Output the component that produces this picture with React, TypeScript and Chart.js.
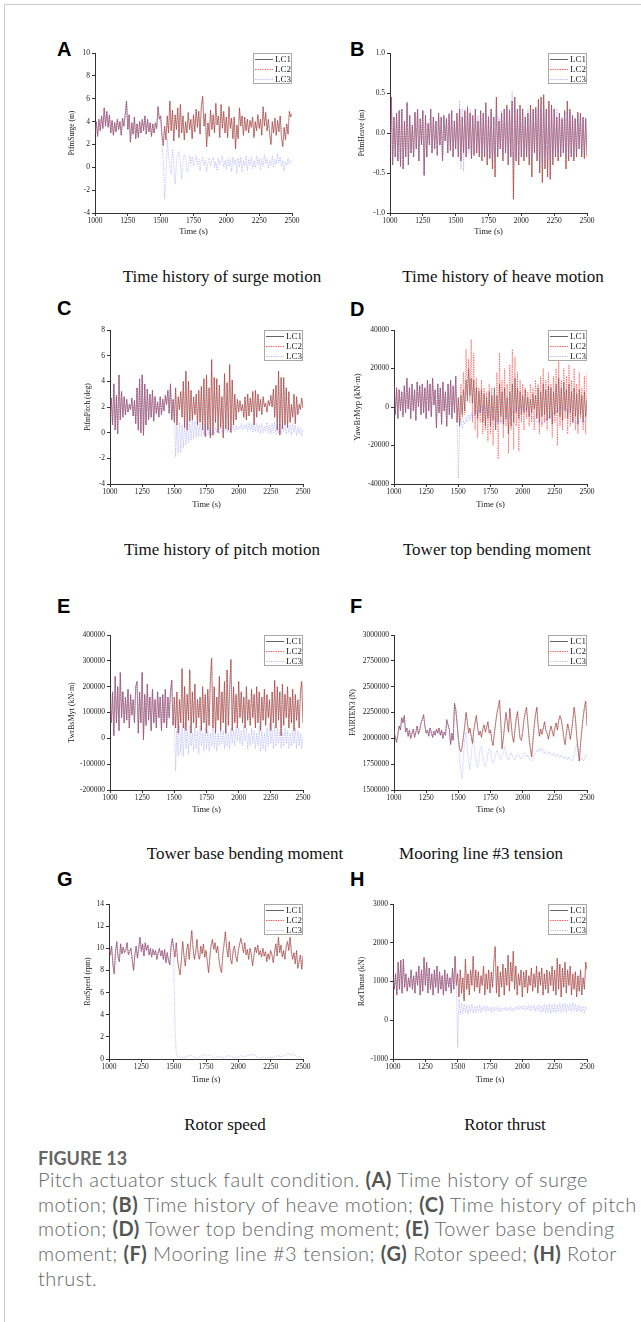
import React, { useEffect, useRef } from "react";
import { Chart, registerables } from "chart.js";

Chart.register(...registerables);

// ---- sampling grid (simulation output every 10 s, 1000 s .. 2500 s) ----
const TIME_START = 1000;
const TIME_STEP = 10;
const N_BEFORE_FAULT = 50; // samples 1000..1490 where LC3 coincides with LC1
const X_TICKS_MIN = 1000;
const X_TICKS_MAX = 2500;
const X_TICK_STEP = 250;
const SERIES_LABELS = ["LC1", "LC2", "LC3"];

// ---- (A) PtfmSurge (m) ----
const SURGE_LC1 = [
  3.0, 4.0, 2.7, 4.2, 3.2, 4.5, 3.4, 5.2, 3.6, 4.9,
  3.5, 4.6, 3.0, 4.1, 2.8, 3.9, 3.1, 4.2, 3.3, 4.0,
  2.8, 4.3, 3.6, 4.6, 5.8, 3.3, 4.6, 2.2, 3.9, 2.9,
  4.4, 2.5, 3.8, 2.6, 4.0, 3.0, 4.2, 3.2, 4.5, 2.9,
  4.2, 3.1, 3.9, 2.7, 3.8, 3.0, 3.9, 3.4, 5.3, 4.2,
  4.5, 2.8, 1.9, 3.6, 2.4, 4.5, 3.0, 5.8, 3.2, 5.0,
  2.3, 4.6, 3.3, 5.2, 2.6, 5.5, 3.0, 4.5, 2.4, 4.0,
  3.0, 4.8, 3.3, 4.2, 2.5, 4.6, 3.1, 5.1, 3.5, 4.9,
  2.9, 5.4, 6.2, 3.6, 4.7, 1.8, 3.9, 2.7, 5.0, 3.3,
  4.6, 3.0, 5.6, 3.7, 4.5, 2.6, 5.5, 3.4, 4.9, 3.0,
  4.4, 2.6, 5.3, 3.4, 4.3, 2.5, 4.4, 1.6, 3.7, 2.5,
  5.2, 3.6, 4.5, 2.8, 4.4, 3.2, 4.2, 3.0, 4.1, 3.5,
  4.4, 2.6, 4.0, 3.2, 4.6, 3.4, 4.2, 2.8, 5.3, 3.6,
  4.8, 3.2, 4.2, 2.9, 2.0, 4.0, 3.0, 4.3, 2.8, 4.1,
  3.1, 4.5, 2.6, 1.8, 3.5, 2.4, 3.8, 2.9, 4.9, 4.4,
  4.7,
];
const SURGE_LC3_FAULT = [
  4.3, 2.2, 0.5, -2.8, -0.8, 2.5, 1.0, 0.0, -0.6, 1.6,
  0.2, -1.5, 0.4, 1.2, 1.4, 0.3, -1.0, 0.6, 1.1, 0.9,
  -0.4, -0.2, 1.0, 0.3, 0.9, 0.1, 0.6, 1.0, 0.2, 0.7,
  -0.3, 0.5, 0.9, 0.2, 0.6, -0.4, 0.4, 0.8, 0.1, 0.6,
  0.9, 0.0, 0.5, -0.3, 0.8, 0.2, 0.6, 1.0, 0.0, 0.6,
  -0.2, 0.8, 0.1, 0.7, -0.4, 0.9, 0.2, 0.7, -0.5, 0.8,
  0.0, 0.9, -0.4, 0.6, 0.1, 1.0, -0.3, 0.7, 0.2, 0.9,
  -0.1, 0.6, 0.0, 1.0, 0.2, 0.8, -0.2, 0.7, 0.1, 1.1,
  0.3, 0.8, -0.1, 0.6, 0.2, 1.0, 0.0, 0.7, 0.3, 1.2,
  0.4, 0.9, 0.1, 0.6, -0.3, 0.5, 0.2, 0.8, 0.3, 0.6,
  0.5,
];

// ---- (B) PtfmHeave (m) ----
const HEAVE_LC1 = [
  -0.3, 0.45, -0.4, 0.2, -0.3, 0.25, -0.35, 0.28, -0.42, 0.3,
  -0.45, 0.15, -0.3, 0.38, -0.4, 0.22, -0.25, 0.1, -0.3, 0.26,
  -0.2, 0.3, -0.35, 0.18, -0.15, 0.28, -0.53, 0.22, -0.3, 0.12,
  -0.15, 0.3, -0.25, 0.2, -0.2, 0.15, -0.28, 0.25, -0.15, 0.2,
  -0.35, 0.22, -0.1, 0.18, -0.25, 0.24, -0.22, 0.28, -0.3, 0.15,
  -0.2, 0.25, -0.3, 0.3, -0.35, 0.2, -0.25, 0.28, -0.3, 0.32,
  -0.2, 0.25, -0.32, 0.22, -0.28, 0.3, -0.25, 0.15, -0.3, 0.28,
  -0.35, 0.25, -0.3, 0.38, -0.4, 0.2, -0.32, 0.3, -0.45, 0.2,
  -0.55, 0.45, -0.3, 0.15, -0.2, 0.25, -0.35, 0.3, -0.25, 0.35,
  -0.4, 0.28, -0.3, 0.4, -0.83, 0.45, -0.35, 0.3, -0.4, 0.35,
  -0.3, 0.3, -0.35, 0.2, -0.3, 0.25, -0.4, 0.35, -0.55, 0.3,
  -0.25, 0.32, -0.35, 0.42, -0.5, 0.45, -0.62, 0.48, -0.45, 0.3,
  -0.55, 0.4, -0.58, 0.35, -0.4, 0.3, -0.3, 0.2, -0.35, 0.25,
  -0.3, 0.18, -0.25, 0.28, -0.45, 0.4, -0.35, 0.3, -0.3, 0.22,
  -0.35, 0.18, -0.3, 0.26, -0.2, 0.25, -0.3, 0.2, -0.32, 0.18,
  -0.3,
];
const HEAVE_LC3_FAULT = [
  -0.15, 0.2, -0.25, 0.4, -0.45, 0.3, -0.48, 0.25, -0.3, 0.35,
  -0.25, 0.3, -0.3, 0.2, -0.25, 0.3, -0.2, 0.22, -0.28, 0.25,
  -0.3, 0.2, -0.25, 0.3, -0.3, 0.22, -0.28, 0.25, -0.35, 0.2,
  -0.3, 0.3, -0.25, 0.2, -0.2, 0.28, -0.3, 0.3, -0.22, 0.3,
  -0.35, 0.3, -0.28, 0.52, -0.4, 0.35, -0.3, 0.28, -0.35, 0.3,
  -0.25, 0.25, -0.3, 0.22, -0.28, 0.3, -0.3, 0.28, -0.35, 0.25,
  -0.22, 0.3, -0.3, 0.35, -0.35, 0.3, -0.4, 0.35, -0.3, 0.25,
  -0.35, 0.3, -0.35, 0.3, -0.3, 0.32, -0.25, 0.3, -0.3, 0.25,
  -0.28, 0.2, -0.25, 0.25, -0.3, 0.3, -0.28, 0.25, -0.25, 0.22,
  -0.3, 0.2, -0.25, 0.25, -0.2, 0.22, -0.25, 0.18, -0.28, 0.2,
  -0.1,
];

// ---- (C) PtfmPitch (deg) ----
const PITCH_LC1 = [
  1.0, 2.7, 0.6, 3.8, 0.2, 2.9, -0.1, 4.5, 1.0, 3.2,
  1.2, 2.8, 1.4, 2.6, 1.6, 2.2, 1.8, 2.7, 1.3, 2.5,
  0.7, 3.5, 0.2, 4.2, 0.0, 4.5, -0.2, 3.8, 0.6, 3.4,
  1.0, 3.0, 1.2, 3.3, 0.9, 2.8, 1.5, 2.4, 1.2, 2.8,
  1.4, 2.6, 1.7, 2.9, 2.2, 3.3, 1.5, 3.8, 1.0, 2.6,
  0.8, 3.5, 0.6, 2.8, 1.8, 3.2, 1.2, 4.0, 0.4, 4.8,
  0.2, 4.0, 0.9, 3.3, 1.0, 2.8, 1.4, 3.0, 0.6, 3.3,
  0.8, 3.6, 0.2, 4.2, -0.3, 4.5, 0.2, 3.5, -0.4, 5.7,
  -0.2, 4.3, 0.8, 4.2, 0.0, 3.7, 0.4, 2.8, -0.4, 4.6,
  0.3, 3.9, 0.2, 5.3, 0.0, 4.1, 0.6, 3.0, 1.0, 2.6,
  1.6, 2.5, 1.7, 2.2, 1.2, 2.8, 1.0, 3.0, 1.3, 2.7,
  1.6, 3.2, 0.6, 3.3, 1.2, 3.0, 1.7, 2.6, 1.4, 2.8,
  2.0, 2.3, 1.6, 2.5, 2.1, 2.9, 2.0, 3.4, 1.2, 3.7,
  0.2, 4.8, -0.2, 4.3, 0.3, 4.3, 0.6, 3.5, 0.4, 3.2,
  0.8, 2.2, 1.2, 3.0, 0.7, 2.8, 1.4, 2.2, 1.8, 2.7,
  1.9,
];
const PITCH_LC3_FAULT = [
  2.0, -1.9, 0.7, -1.6, 0.8, -1.5, 0.6, -1.2, 0.8, -1.0,
  0.9, -0.8, 1.0, -0.6, 1.1, -0.5, 0.9, -0.4, 0.8, -0.3,
  0.7, -0.3, 0.6, -0.2, 0.5, -0.3, 0.5, -0.2, 0.4, -0.2,
  0.3, -0.1, 0.4, 0.0, 0.3, -0.1, 0.4, 0.0, 0.2, 0.1,
  0.4, 0.0, 0.3, 0.1, 0.4, 0.2, 0.5, 0.1, 0.6, 0.2,
  0.5, 0.3, 0.7, 0.2, 0.6, 0.3, 0.7, 0.1, 0.8, 0.2,
  0.7, 0.0, 0.8, 0.1, 0.7, 0.0, 0.6, -0.1, 0.7, 0.0,
  0.5, 0.1, 0.8, 0.0, 0.6, -0.1, 0.7, 0.0, 0.8, -0.1,
  0.6, 0.0, 0.7, -0.1, 0.8, 0.1, 0.6, -0.1, 0.7, 0.0,
  0.6, -0.2, 0.7, 0.0, 0.6, -0.2, 0.5, -0.1, 0.4, -0.3,
  0.3,
];

// ---- (D) YawBrMyp (kN·m) ----
const YAWBR_LC1 = [
  12000, -4000, 10000, -6000, 9000, -2000, 8000, -5000, 11000, -3000,
  15000, -1000, 10000, -6000, 12000, -2000, 9000, -7000, 13000, 0,
  11000, -4000, 12000, -3000, 10000, -6000, 14000, -2000, 12000, -5000,
  15000, 1000, 9000, -11000, 12000, -3000, 10000, -9000, 13000, -2000,
  8000, -10000, 12000, -4000, 14000, -6000, 11000, -3000, 16000, -8000,
  5000, -10000, 6000, -4000, 9000, -2000, 14000, 3000, 20000, 6000,
  15000, 2000, 14000, -4000, 10000, -6000, 8000, -3000, 9000, -8000,
  7000, -10000, 5000, -6000, 8000, -10000, 6000, -7000, 10000, -12000,
  6000, -8000, 12000, -5000, 8000, -9000, 10000, -6000, 5000, -14000,
  8000, -10000, 12000, -8000, 15000, -3000, 10000, -6000, 8000, -4000,
  6000, -3000, 9000, -2000, 5000, -5000, 4000, -3000, 7000, -1000,
  6000, -6000, 10000, -8000, 8000, -5000, 12000, -4000, 9000, -7000,
  11000, -6000, 10000, -9000, 8000, -4000, 12000, -3000, 15000, -5000,
  10000, -7000, 13000, -2000, 9000, -6000, 12000, -3000, 8000, -8000,
  10000, -5000, 7000, -9000, 9000, -4000, 6000, -8000, 8000, -5000,
  4000,
];
const YAWBR_LC2_FAULT = [
  4000, -8000, 12000, -6000, 18000, -4000, 30000, 6000, 25000, 2000,
  35000, -8000, 28000, -12000, 15000, -16000, 10000, -8000, 14000, -14000,
  10000, -12000, 8000, -18000, 12000, -14000, 10000, -20000, 6000, -10000,
  18000, -27000, 28000, -8000, 14000, -16000, 20000, -10000, 12000, -24000,
  22000, -12000, 30000, -22000, 26000, -10000, 18000, -23000, 14000, -8000,
  12000, -12000, 10000, -6000, 8000, -10000, 12000, -8000, 10000, -12000,
  14000, -6000, 12000, -14000, 16000, -10000, 20000, -8000, 14000, -12000,
  18000, -6000, 12000, -16000, 16000, -8000, 20000, -20000, 24000, -10000,
  14000, -12000, 20000, -6000, 16000, -14000, 22000, -10000, 14000, -8000,
  20000, -12000, 12000, -14000, 18000, -6000, 10000, -12000, 16000, -14000,
  18000,
];
const YAWBR_LC3_FAULT = [
  -37000, -10000, -6000, -11000, -7000, -9000, -5000, -8000, -4000, -7000,
  -3000, -6000, -4000, -5000, -2000, -4000, -1000, -3000, 0, -2000,
  1000, -1000, 0, -3000, -2000, -5000, -4000, -6000, -5000, -8000,
  -7000, -9000, -8000, -9000, -7000, -8000, -6000, -7000, -5000, -6000,
  -3000, -4000, -2000, -3000, -1000, -2000, 0, -1000, 1000, -1000,
  0, -2000, -1000, -3000, -2000, -4000, -4000, -6000, -5000, -7000,
  -6000, -8000, -7000, -9000, -8000, -9000, -7000, -8000, -6000, -7000,
  -5000, -6000, -4000, -4000, -3000, -2000, -3000, -1000, -2000, 0,
  -1000, 1000, -1000, 0, -2000, -1000, -3000, -4000, -5000, -6000,
  -8000, -7000, -9000, -8000, -7000, -8000, -7000, -6000, -8000, -7000,
  -6000,
];

// ---- (E) TwrBsMyt (kN·m) ----
const TWRBS_LC1 = [
  150000, 60000, 180000, 10000, 240000, 60000, 200000, 30000, 255000, 80000,
  180000, 60000, 160000, 70000, 190000, 40000, 170000, 90000, 150000, 60000,
  200000, 220000, 20000, 180000, 60000, 255000, -5000, 170000, 50000, 210000,
  70000, 160000, 30000, 190000, 60000, 150000, 40000, 180000, 80000, 160000,
  30000, 170000, 60000, 190000, 40000, 160000, 80000, 180000, 225000, 50000,
  160000, 40000, 180000, 20000, 150000, 60000, 270000, 40000, 200000, 30000,
  170000, 70000, 265000, 20000, 180000, 60000, 210000, 40000, 150000, 80000,
  160000, 30000, 200000, 60000, 170000, 20000, 190000, 50000, 230000, 310000,
  40000, 200000, 20000, 160000, 70000, 240000, 30000, 180000, 60000, 220000,
  20000, 265000, 50000, 190000, 305000, 30000, 200000, 60000, 170000, 40000,
  220000, 80000, 180000, 60000, 160000, 40000, 200000, 70000, 150000, 50000,
  190000, 80000, 170000, 40000, 200000, 60000, 180000, 30000, 160000, 70000,
  190000, 50000, 170000, 80000, 150000, 30000, 180000, 60000, 225000, 40000,
  200000, 70000, 180000, 10000, 210000, 50000, 170000, 80000, 200000, 40000,
  160000, 60000, 190000, 30000, 170000, 70000, 150000, 40000, 180000, 220000,
  60000,
];
const TWRBS_LC3_FAULT = [
  80000, -125000, 30000, -70000, 50000, -60000, 40000, -70000, 60000, -40000,
  30000, -60000, 50000, -30000, 20000, -50000, 40000, -40000, 30000, -60000,
  50000, -30000, 20000, -50000, 40000, -40000, 30000, -50000, 20000, -30000,
  40000, -40000, 30000, -50000, 20000, -30000, 40000, -20000, 30000, -40000,
  50000, -30000, 20000, -40000, 40000, -20000, 30000, -30000, 50000, -10000,
  40000, -20000, 30000, -30000, 50000, -10000, 40000, -40000, 20000, -30000,
  40000, -20000, 30000, -40000, 20000, -30000, 50000, -50000, 30000, -40000,
  20000, -50000, 40000, -30000, 60000, -20000, 30000, -40000, 50000, -30000,
  40000, -20000, 30000, -40000, 20000, -30000, 40000, -20000, 30000, -40000,
  20000, -30000, 30000, -20000, 40000, -40000, 30000, -30000, 20000, -40000,
  10000,
];

// ---- (F) FAIRTEN3 (N) ----
const FAIRTEN_LC1 = [
  2070000, 2010000, 1960000, 2040000, 2120000, 2080000, 2200000, 2150000, 2220000, 2060000,
  2100000, 2020000, 2080000, 2000000, 2050000, 2090000, 2010000, 2060000, 2120000, 2040000,
  2080000, 2150000, 2180000, 2230000, 2120000, 2050000, 2080000, 2020000, 2100000, 2060000,
  2010000, 2070000, 2030000, 2090000, 2050000, 2100000, 2030000, 2080000, 2000000, 2060000,
  2030000, 2180000, 2130000, 2090000, 1940000, 2050000, 1980000, 2340000, 2280000, 2150000,
  2000000, 1900000, 1870000, 1920000, 2020000, 2120000, 2250000, 2160000, 2050000, 2100000,
  2020000, 1950000, 2080000, 2150000, 2220000, 2100000, 2030000, 2070000, 2010000, 2090000,
  2130000, 2060000, 2110000, 2160000, 2050000, 2080000, 1980000, 1930000, 2050000, 2150000,
  2240000, 2300000, 2370000, 2150000, 1900000, 2000000, 2130000, 2250000, 2160000, 2060000,
  2290000, 2150000, 2020000, 1960000, 2080000, 2190000, 2260000, 2120000, 2000000, 1980000,
  2060000, 2180000, 2250000, 2300000, 2150000, 2000000, 1900000, 1820000, 1980000, 2120000,
  2230000, 2300000, 2130000, 2020000, 2090000, 2040000, 2100000, 2160000, 2080000, 2050000,
  1990000, 2060000, 2120000, 2070000, 2020000, 2100000, 2150000, 2080000, 2170000, 2220000,
  2180000, 2100000, 2000000, 1940000, 2050000, 2140000, 2080000, 1990000, 2070000, 2180000,
  2300000, 2200000, 2020000, 1900000, 1780000, 1950000, 2080000, 2200000, 2300000, 2360000,
  2120000,
];
const FAIRTEN_LC3_FAULT = [
  1980000, 1780000, 1680000, 1610000, 1850000, 2000000, 2060000, 1900000, 1760000, 1700000,
  1820000, 1950000, 2000000, 1850000, 1750000, 1720000, 1800000, 1900000, 1920000, 1830000,
  1760000, 1730000, 1780000, 1850000, 1900000, 1880000, 1800000, 1760000, 1790000, 1840000,
  1880000, 1860000, 1820000, 1790000, 1830000, 1870000, 1920000, 1870000, 1810000, 1790000,
  1830000, 1860000, 1830000, 1800000, 1790000, 1820000, 1850000, 1840000, 1810000, 1800000,
  1830000, 1860000, 1850000, 1820000, 1840000, 1810000, 1790000, 1780000, 1800000, 1830000,
  1860000, 1890000, 1870000, 1900000, 1880000, 1910000, 1870000, 1850000, 1880000, 1860000,
  1840000, 1870000, 1850000, 1830000, 1860000, 1840000, 1820000, 1850000, 1830000, 1810000,
  1840000, 1820000, 1800000, 1830000, 1810000, 1790000, 1820000, 1800000, 1780000, 1800000,
  1830000, 1900000, 1950000, 1880000, 1820000, 1790000, 1810000, 1780000, 1800000, 1840000,
  1830000,
];

// ---- (G) RotSpeed (rpm) ----
const ROTSPEED_LC1 = [
  9.8, 9.4, 10.2, 8.6, 7.7, 9.6, 10.6, 9.2, 8.8, 10.4,
  9.5, 10.1, 9.6, 9.8, 10.5, 9.4, 9.7, 10.0, 8.9, 8.0,
  9.4, 10.2, 9.1, 10.0, 11.0, 9.7, 10.4, 9.3, 10.5, 9.8,
  10.3, 9.4, 10.0, 9.2, 9.9, 9.4, 9.8, 9.0, 9.6, 10.0,
  9.3, 9.8, 9.0, 9.9, 8.7, 9.6, 8.9, 8.5, 10.2, 10.9,
  10.0, 9.2, 10.5, 9.0, 8.2, 7.6, 9.0, 10.6, 9.3, 8.4,
  9.8, 10.4, 9.0, 10.3, 11.6, 10.0, 9.0, 9.6, 10.8, 9.4,
  9.0, 10.2, 9.5, 10.4, 9.2, 9.8, 8.8, 7.8, 9.2, 10.3,
  10.8, 9.9, 10.5, 9.6, 10.2, 9.0, 8.2, 7.8, 9.4, 10.4,
  11.5, 10.0, 9.2, 10.6, 9.0, 8.6, 9.8, 10.2, 9.3, 8.8,
  9.8, 10.4, 10.9, 10.3, 9.6, 10.5, 9.4, 9.9, 9.0, 10.0,
  9.5, 8.4, 9.3, 10.1, 9.6, 10.3, 9.4, 9.8, 9.2, 10.0,
  9.3, 9.7, 8.8, 9.5, 9.0, 9.8, 9.4, 8.7, 9.6, 10.4,
  9.3, 11.0, 9.6, 10.3, 9.2, 9.8, 9.0, 10.2, 10.6, 9.8,
  11.0, 9.7, 9.0, 9.6, 8.6, 9.8, 8.2, 8.8, 9.4, 8.1,
  9.3,
];
const ROTSPEED_LC3_FAULT = [
  9.0, 3.0, 0.5, 0.2, 0.3, 0.1, 0.2, 0.1, 0.15, 0.1,
  0.2, 0.25, 0.3, 0.35, 0.3, 0.2, 0.15, 0.1, 0.1, 0.15,
  0.2, 0.25, 0.3, 0.35, 0.4, 0.35, 0.3, 0.35, 0.4, 0.3,
  0.2, 0.15, 0.1, 0.15, 0.2, 0.25, 0.2, 0.15, 0.1, 0.15,
  0.2, 0.25, 0.3, 0.3, 0.25, 0.2, 0.15, 0.1, 0.1, 0.15,
  0.2, 0.25, 0.3, 0.25, 0.2, 0.2, 0.25, 0.3, 0.35, 0.4,
  0.45, 0.4, 0.35, 0.3, 0.2, 0.15, 0.1, 0.1, 0.15, 0.2,
  0.15, 0.1, 0.1, 0.15, 0.2, 0.15, 0.1, 0.15, 0.2, 0.25,
  0.3, 0.3, 0.25, 0.2, 0.25, 0.3, 0.35, 0.4, 0.45, 0.5,
  0.45, 0.4, 0.3, 0.45, 0.35, 0.2, 0.15, 0.2, 0.15, 0.1,
  0.15,
];

// ---- (H) RotThrust (kN) ----
const ROTTHRUST_LC1 = [
  1100, 800, 1200, 650, 1500, 800, 1550, 700, 1580, 850,
  1200, 750, 1100, 850, 1300, 800, 1150, 700, 1250, 900,
  1400, 650, 1300, 750, 1620, 900, 1500, 700, 1350, 800,
  1200, 650, 1300, 850, 1400, 700, 1250, 800, 1150, 650,
  1300, 750, 1200, 850, 1100, 700, 1350, 800, 1650, 900,
  1200, 600, 1300, 700, 1100, 500, 1580, 800, 1200, 650,
  1300, 900, 1650, 750, 1300, 850, 1250, 700, 1150, 900,
  1400, 650, 1200, 800, 1300, 700, 1250, 850, 1500, 1900,
  700, 1400, 600, 1250, 850, 1450, 650, 1350, 900, 1680,
  750, 1500, 1000, 1780, 800, 1400, 650, 1200, 900, 1300,
  600, 1250, 850, 1300, 700, 1150, 900, 1350, 750, 1200,
  850, 1400, 700, 1250, 900, 1350, 650, 1200, 800, 1300,
  700, 1250, 900, 1400, 750, 1300, 650, 1600, 800, 1450,
  600, 1350, 850, 1500, 700, 1300, 900, 1400, 650, 1200,
  800, 1250, 600, 1150, 750, 1300, 650, 1100, 800, 1500,
  1300,
];
const ROTTHRUST_LC3_FAULT = [
  -700, 550, 150, 450, 180, 420, 200, 400, 150, 380,
  220, 420, 180, 350, 200, 380, 230, 400, 200, 350,
  250, 380, 220, 360, 240, 340, 200, 350, 230, 330,
  250, 360, 220, 330, 240, 320, 260, 350, 240, 330,
  260, 340, 230, 320, 250, 350, 270, 380, 260, 360,
  280, 390, 250, 370, 270, 400, 240, 380, 260, 400,
  230, 370, 250, 400, 200, 380, 220, 420, 180, 400,
  200, 420, 170, 410, 210, 430, 190, 400, 220, 450,
  200, 420, 230, 440, 200, 410, 250, 430, 220, 460,
  240, 420, 210, 400, 230, 380, 200, 360, 180, 350,
  250,
];

// ---- assembly helpers ----
const TIMES = SURGE_LC1.map((_, i) => TIME_START + i * TIME_STEP);
const withPreFault = (lc1: number[], fault: number[]) => lc1.slice(0, N_BEFORE_FAULT).concat(fault);

const SERIF = '"Liberation Serif", "Times New Roman", serif';

type Panel = {
  letter: string;
  caption: string;
  yTitle: string;
  yMin: number;
  yMax: number;
  yStep: number;
  decimals: number;
  lc1: number[];
  lc2: number[];
  lc3: number[];
  box: { l: number; t: number; r: number; b: number };
  yGap: number;
  xGap: number;
  yTitleSize: number;
  letterPos: { x: number; y: number };
  capPos: { cx: number; base: number };
};

const PANELS: Panel[] = [
  {
    letter: "A", caption: "Time history of surge motion", yTitle: "PtfmSurge (m)",
    yMin: -4, yMax: 10, yStep: 2, decimals: 0,
    lc1: SURGE_LC1, lc2: SURGE_LC1, lc3: withPreFault(SURGE_LC1, SURGE_LC3_FAULT),
    box: { l: 95, t: 53, r: 292, b: 213 }, yGap: 23, xGap: 19, yTitleSize: 7.5,
    letterPos: { x: 57, y: 42 }, capPos: { cx: 222, base: 283 },
  },
  {
    letter: "B", caption: "Time history of heave motion", yTitle: "PtfmHeave (m)",
    yMin: -1, yMax: 1, yStep: 0.5, decimals: 1,
    lc1: HEAVE_LC1, lc2: HEAVE_LC1, lc3: withPreFault(HEAVE_LC1, HEAVE_LC3_FAULT),
    box: { l: 390, t: 53, r: 587, b: 213 }, yGap: 28, xGap: 19, yTitleSize: 7.5,
    letterPos: { x: 350, y: 42 }, capPos: { cx: 503, base: 283 },
  },
  {
    letter: "C", caption: "Time history of pitch motion", yTitle: "PtfmPitch (deg)",
    yMin: -4, yMax: 8, yStep: 2, decimals: 0,
    lc1: PITCH_LC1, lc2: PITCH_LC1, lc3: withPreFault(PITCH_LC1, PITCH_LC3_FAULT),
    box: { l: 110, t: 330, r: 303, b: 484 }, yGap: 22, xGap: 21, yTitleSize: 7.5,
    letterPos: { x: 57, y: 301 }, capPos: { cx: 222, base: 556 },
  },
  {
    letter: "D", caption: "Tower top bending moment", yTitle: "YawBrMyp (kN·m)",
    yMin: -40000, yMax: 40000, yStep: 20000, decimals: 0,
    lc1: YAWBR_LC1, lc2: withPreFault(YAWBR_LC1, YAWBR_LC2_FAULT), lc3: withPreFault(YAWBR_LC1, YAWBR_LC3_FAULT),
    box: { l: 394, t: 330, r: 587, b: 484 }, yGap: 36, xGap: 21, yTitleSize: 8.5,
    letterPos: { x: 350, y: 302 }, capPos: { cx: 497, base: 556 },
  },
  {
    letter: "E", caption: "Tower base bending moment", yTitle: "TwrBsMyt (kN·m)",
    yMin: -200000, yMax: 400000, yStep: 100000, decimals: 0,
    lc1: TWRBS_LC1, lc2: TWRBS_LC1, lc3: withPreFault(TWRBS_LC1, TWRBS_LC3_FAULT),
    box: { l: 110, t: 635, r: 303, b: 790 }, yGap: 38, xGap: 20, yTitleSize: 8,
    letterPos: { x: 57, y: 599 }, capPos: { cx: 245, base: 860 },
  },
  {
    letter: "F", caption: "Mooring line #3 tension", yTitle: "FAIRTEN3 (N)",
    yMin: 1500000, yMax: 3000000, yStep: 250000, decimals: 0,
    lc1: FAIRTEN_LC1, lc2: FAIRTEN_LC1, lc3: withPreFault(FAIRTEN_LC1, FAIRTEN_LC3_FAULT),
    box: { l: 394, t: 635, r: 587, b: 790 }, yGap: 41, xGap: 20, yTitleSize: 7.5,
    letterPos: { x: 350, y: 599 }, capPos: { cx: 481, base: 860 },
  },
  {
    letter: "G", caption: "Rotor speed", yTitle: "RotSpeed (rpm)",
    yMin: 0, yMax: 14, yStep: 2, decimals: 0,
    lc1: ROTSPEED_LC1, lc2: ROTSPEED_LC1, lc3: withPreFault(ROTSPEED_LC1, ROTSPEED_LC3_FAULT),
    box: { l: 109, t: 904, r: 303, b: 1059 }, yGap: 21, xGap: 21, yTitleSize: 7.5,
    letterPos: { x: 57, y: 872 }, capPos: { cx: 225, base: 1131 },
  },
  {
    letter: "H", caption: "Rotor thrust", yTitle: "RotThrust (kN)",
    yMin: -1000, yMax: 3000, yStep: 1000, decimals: 0,
    lc1: ROTTHRUST_LC1, lc2: ROTTHRUST_LC1, lc3: withPreFault(ROTTHRUST_LC1, ROTTHRUST_LC3_FAULT),
    box: { l: 393, t: 904, r: 587, b: 1059 }, yGap: 31, xGap: 21, yTitleSize: 8,
    letterPos: { x: 350, y: 872 }, capPos: { cx: 505, base: 1131 },
  },
];

const LINE_STYLES = [
  { color: "rgba(50,50,50,0.75)", width: 0.6, dash: [] as number[] },
  { color: "rgba(255,45,45,0.8)", width: 0.7, dash: [1.4, 1] },
  { color: "rgba(110,110,255,0.45)", width: 0.8, dash: [1.4, 1] },
];

const boxLegend = {
  id: "boxLegend",
  afterDraw(chart: any) {
    const { ctx, chartArea } = chart;
    const w = 39;
    const h = 31;
    const x = chartArea.right - w;
    const y = chartArea.top;
    ctx.save();
    ctx.fillStyle = "#ffffff";
    ctx.fillRect(x, y, w, h);
    ctx.strokeStyle = "#a8a8a8";
    ctx.lineWidth = 1;
    ctx.setLineDash([]);
    ctx.strokeRect(Math.round(x) + 0.5, Math.round(y) + 0.5, w - 1, h - 1);
    chart.data.datasets.forEach((ds: any, i: number) => {
      const cy = y + 6.5 + i * 10;
      ctx.strokeStyle = ds.borderColor;
      ctx.lineWidth = 1;
      ctx.setLineDash(ds.borderDash || []);
      ctx.beginPath();
      ctx.moveTo(x + 2, cy);
      ctx.lineTo(x + 20, cy);
      ctx.stroke();
      ctx.setLineDash([]);
      ctx.fillStyle = "#222";
      ctx.font = `9px ${SERIF}`;
      ctx.textBaseline = "middle";
      ctx.textAlign = "left";
      ctx.fillText(ds.label, x + 22, cy + 0.5);
    });
    ctx.restore();
  },
};

const ML = 62; // canvas margin left of plot area
const MT = 10;
const MR = 14;
const MB = 32;
const X_TITLE_SIZE = 8.5;

function PanelChart({ p }: { p: Panel }) {
  const ref = useRef<HTMLCanvasElement>(null);
  const w = p.box.r - p.box.l + ML + MR;
  const h = p.box.b - p.box.t + MT + MB;
  useEffect(() => {
    if (!ref.current) return;
    const yW = p.yGap + (p.yTitleSize * 1.2) / 2;
    const xH = p.xGap + (X_TITLE_SIZE * 1.2) / 2;
    const series = [p.lc1, p.lc2, p.lc3];
    const chart = new Chart(ref.current, {
      type: "line",
      data: {
        datasets: series.map((vals, i) => ({
          label: SERIES_LABELS[i],
          data: vals.map((v, k) => ({ x: TIMES[k], y: v })),
          borderColor: LINE_STYLES[i].color,
          borderWidth: LINE_STYLES[i].width,
          borderDash: LINE_STYLES[i].dash,
          pointRadius: 0,
          tension: 0,
          fill: false,
          order: 3 - i,
        })),
      },
      options: {
        animation: false,
        responsive: false,
        maintainAspectRatio: false,
        events: [],
        layout: { padding: { left: ML - yW, top: MT, right: MR, bottom: MB - xH } },
        plugins: { legend: { display: false }, tooltip: { enabled: false }, title: { display: false } },
        scales: {
          x: {
            type: "linear",
            min: X_TICKS_MIN,
            max: X_TICKS_MAX,
            ticks: {
              stepSize: X_TICK_STEP,
              autoSkip: false,
              maxRotation: 0,
              padding: 1,
              color: "#222",
              font: { family: SERIF, size: 7.5 },
              callback: (v: any) => String(v),
            },
            grid: { drawOnChartArea: false, drawTicks: true, tickLength: 3, color: "#333", lineWidth: 1 },
            border: { display: true, color: "#333", width: 1 },
            title: { display: true, text: "Time (s)", color: "#222", padding: 0, font: { family: SERIF, size: X_TITLE_SIZE } },
            afterFit: (s: any) => { s.height = xH; },
          },
          y: {
            type: "linear",
            min: p.yMin,
            max: p.yMax,
            ticks: {
              stepSize: p.yStep,
              autoSkip: false,
              padding: 2,
              color: "#222",
              font: { family: SERIF, size: 7.5 },
              callback: (v: any) => Number(v).toFixed(p.decimals),
            },
            grid: { drawOnChartArea: false, drawTicks: true, tickLength: 3, color: "#333", lineWidth: 1 },
            border: { display: true, color: "#333", width: 1 },
            title: { display: true, text: p.yTitle, color: "#222", padding: 0, font: { family: SERIF, size: p.yTitleSize } },
            afterFit: (s: any) => { s.width = yW; },
          },
        },
      } as any,
      plugins: [boxLegend],
    });
    return () => chart.destroy();
  }, [p]);
  return (
    <canvas
      ref={ref}
      width={w}
      height={h}
      style={{ position: "absolute", left: p.box.l - ML, top: p.box.t - MT, width: w, height: h }}
    />
  );
}

const B = ({ children }: { children: React.ReactNode }) => (
  <span style={{ fontWeight: 700, color: "#555" }}>{children}</span>
);

const CAPTION_LINES: React.ReactNode[] = [
  <>Pitch actuator stuck fault condition. <B>(A)</B> Time history of surge</>,
  <>motion; <B>(B)</B> Time history of heave motion; <B>(C)</B> Time history of pitch</>,
  <>motion; <B>(D)</B> Tower top bending moment; <B>(E)</B> Tower base bending</>,
  <>moment; <B>(F)</B> Mooring line #3 tension; <B>(G)</B> Rotor speed; <B>(H)</B> Rotor</>,
  <>thrust.</>,
];

export default function App() {
  return (
    <div
      style={{
        position: "absolute",
        left: 0,
        top: 0,
        width: 641,
        height: 1322,
        overflow: "hidden",
        background: "#ffffff",
      }}
    >
      <div
        style={{
          position: "absolute",
          left: 4,
          top: 4,
          width: 800,
          height: 1500,
          borderLeft: "1px solid #cccccc",
          borderTop: "1px solid #cccccc",
        }}
      />
      {PANELS.map((p) => (
        <React.Fragment key={p.letter}>
          <div
            style={{
              position: "absolute",
              left: p.letterPos.x,
              top: p.letterPos.y - 2.6,
              font: 'bold 20px "Liberation Sans", Arial, sans-serif',
              lineHeight: "20px",
              color: "#000",
            }}
          >
            {p.letter}
          </div>
          <PanelChart p={p} />
          <div
            style={{
              position: "absolute",
              left: p.capPos.cx - 160,
              width: 320,
              top: p.capPos.base - 15.8,
              textAlign: "center",
              fontFamily: SERIF,
              fontSize: 17,
              lineHeight: "20px",
              color: "#111",
              whiteSpace: "nowrap",
            }}
          >
            {p.caption}
          </div>
        </React.Fragment>
      ))}
      <div
        style={{
          position: "absolute",
          left: 38,
          top: 1165 - 18,
          fontFamily: "Lato, 'Open Sans', sans-serif",
          fontWeight: 700,
          fontSize: 18,
          lineHeight: "22px",
          color: "#666",
          whiteSpace: "nowrap",
        }}
      >
        FIGURE 13
      </div>
      <div
        style={{
          position: "absolute",
          left: 38,
          top: 1167,
          fontFamily: "Lato, 'Open Sans', sans-serif",
          fontWeight: 300,
          fontSize: 20,
          letterSpacing: "0.45px",
          lineHeight: "24.7px",
          color: "#666",
          whiteSpace: "nowrap",
        }}
      >
        {CAPTION_LINES.map((ln, i) => (
          <div key={i}>{ln}</div>
        ))}
      </div>
    </div>
  );
}
